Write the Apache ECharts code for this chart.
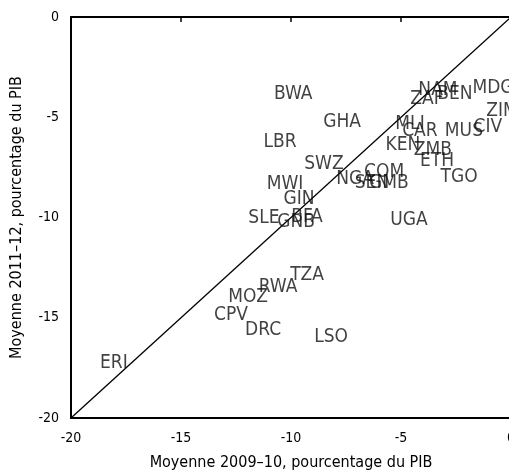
<!DOCTYPE html>
<html><head><meta charset="utf-8">
<script src="https://cdn.jsdelivr.net/npm/echarts@6/dist/echarts.min.js"></script>
<style>html,body{margin:0;padding:0;background:#fff}#c{width:509px;height:474px}</style>
</head><body><div id="c"></div>
<script>
const countries = ["BWA","GHA","LBR","SWZ","MWI","GIN","SLE","GNB","BFA","NGA","COM","SEN","GMB","UGA","TGO","KEN","ZMB","ETH","MLI","CAR","MUS","CIV","ZIM","MDG","NAM","BEN","ZAF","TZA","RWA","MOZ","CPV","DRC","LSO","ERI"];
const avg2009_10 = [-9.9,-7.68,-10.5,-8.5,-10.27,-9.64,-11.23,-9.77,-9.27,-7.09,-5.77,-6.32,-5.55,-4.64,-2.36,-4.91,-3.55,-3.36,-4.59,-4.14,-2.14,-1.05,-0.41,-0.82,-3.32,-2.55,-3.82,-9.27,-10.59,-11.95,-12.73,-11.27,-8.18,-18.05];
const avg2011_12 = [-3.84,-5.24,-6.23,-7.33,-8.33,-9.08,-10.02,-10.22,-9.98,-8.08,-7.73,-8.28,-8.28,-10.12,-7.98,-6.38,-6.63,-7.18,-5.34,-5.69,-5.69,-5.49,-4.69,-3.54,-3.64,-3.84,-4.09,-12.87,-13.47,-13.97,-14.86,-15.61,-15.96,-17.26];
const diagonal = [[-20,-20],[0,0]];
const xTicks = [-20,-15,-10,-5,0];
const yTicks = [-20,-15,-10,-5,0];

const narrow = "'DejaVu Sans Condensed','Liberation Sans Narrow','Arial Narrow',sans-serif";
const chart = echarts.init(document.getElementById('c'));
chart.setOption({
  animation:false,
  backgroundColor:'#fff',
  grid:{left:71,top:17,right:-2,bottom:56,containLabel:false,outerBoundsMode:'none'},
  xAxis:[{
    type:'value',min:xTicks[0],max:xTicks[xTicks.length-1],interval:5,position:'bottom',
    axisLine:{show:true,onZero:false,lineStyle:{color:'#000',width:2}},
    axisTick:{show:false},splitLine:{show:false},
    axisLabel:{color:'#000',fontFamily:narrow,fontSize:14,margin:13},
    name:'Moyenne 2009–10, pourcentage du PIB',nameLocation:'middle',nameGap:37,
    nameTextStyle:{color:'#000',fontFamily:narrow,fontSize:16}
  },{
    type:'value',min:xTicks[0],max:xTicks[xTicks.length-1],interval:5,position:'top',
    axisLine:{show:true,onZero:false,lineStyle:{color:'#000',width:2}},
    axisTick:{show:true,inside:true,length:5,lineStyle:{color:'#000',width:1.5}},
    axisLabel:{show:false},splitLine:{show:false}
  }],
  yAxis:{
    type:'value',min:yTicks[0],max:yTicks[yTicks.length-1],interval:5,
    axisLine:{show:true,onZero:false,lineStyle:{color:'#000',width:2}},
    axisTick:{show:false},splitLine:{show:false},
    axisLabel:{color:'#000',fontFamily:narrow,fontSize:14,margin:12},
    name:'Moyenne 2011–12, pourcentage du PIB',nameLocation:'middle',nameGap:46,
    nameTextStyle:{color:'#000',fontFamily:narrow,fontSize:16}
  },
  series:[{
    type:'line',data:diagonal,symbol:'none',silent:true,xAxisIndex:0,
    lineStyle:{color:'#000',width:1.3},z:1
  },{
    type:'scatter',symbolSize:0,z:2,xAxisIndex:0,
    data:countries.map((n,i)=>({name:n,value:[avg2009_10[i],avg2011_12[i]]})),
    label:{show:true,position:'inside',formatter:p=>p.name,color:'#111',fontFamily:narrow,fontSize:19}
  }]
});
</script></body></html>
